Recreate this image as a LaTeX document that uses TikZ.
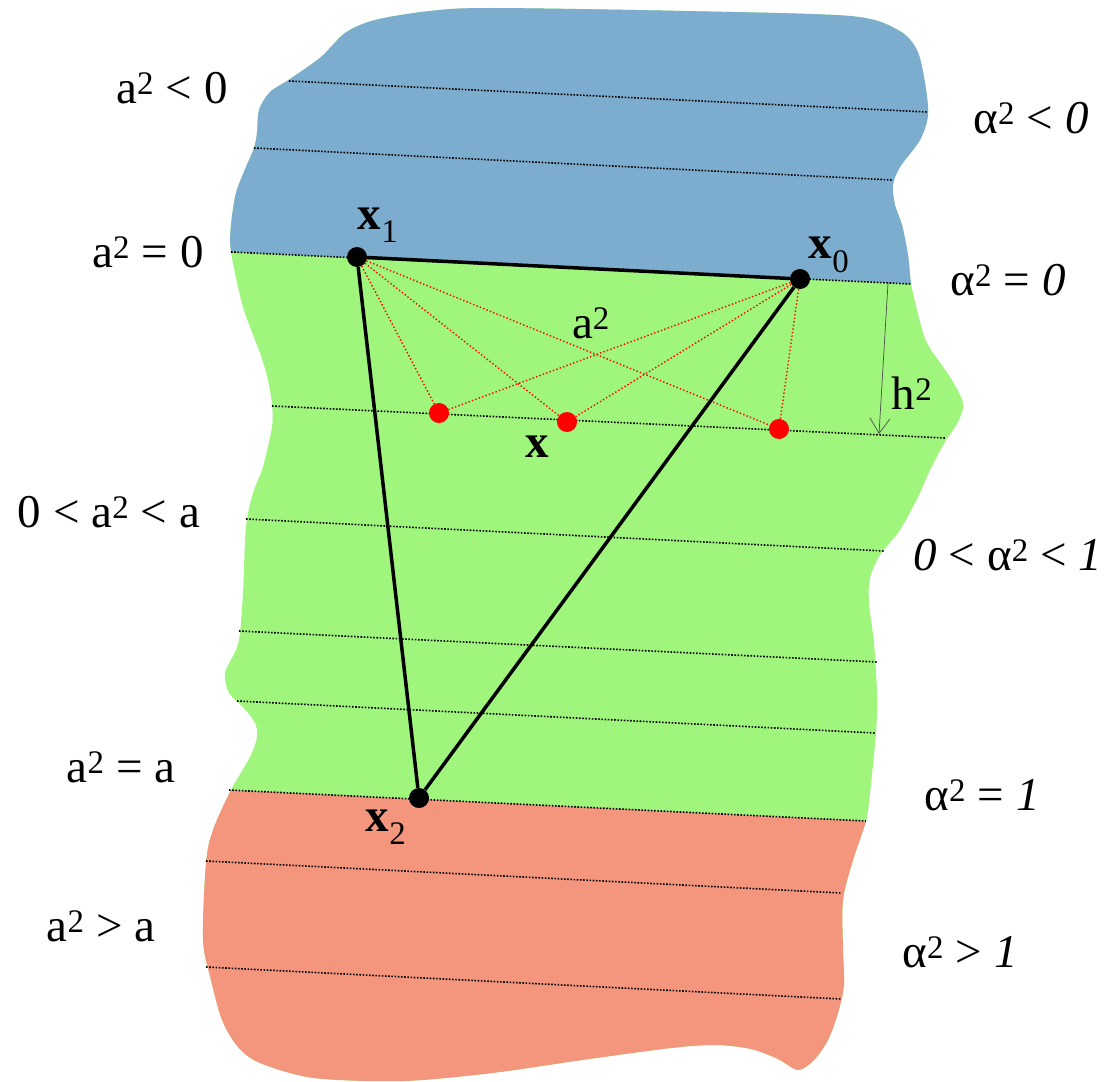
\documentclass[tikz,border=0pt]{standalone}
\usepackage{fontspec}
\setmainfont{Liberation Serif}
\usetikzlibrary{arrows.meta, calc}
\definecolor{regblue}{HTML}{7DADCE}
\definecolor{reggreen}{HTML}{A0F57D}
\definecolor{regred}{HTML}{F4967E}
\tikzset{
  lbl/.style={font=\fontsize{47}{50}\selectfont, inner sep=0pt},
  vtx/.style={circle, fill=black, minimum size=20pt, inner sep=0pt},
  rdot/.style={circle, fill=red, minimum size=20pt, inner sep=0pt},
  level/.style={dash pattern=on 1.6pt off 1.6pt, line width=1.6pt},
  ray/.style={red, dash pattern=on 1.4pt off 2.2pt, line width=1.4pt},
}

\begin{document}
\begin{tikzpicture}[x=1pt, y=-1pt]
    \useasboundingbox (0,0) rectangle (1113,1081);

    % Regions
    \begin{scope}
        \clip plot[smooth cycle, tension=0.5] coordinates {
            (290,79) (321,57) (345,33) (375,20) (430,11) (491,8) (685,11)
            (850,16) (898,30) (917,50) (925,83) (928,115) (920,140) (900,167)
            (893,185) (895,205) (902,225) (908,255) (911,283) (917,310)
            (927,343) (950,377) (963,403) (958,422) (945,442) (930,470)
            (918,497) (900,530) (880,555) (870,578) (869,603) (874,643)
            (877,693) (876,733) (870,793) (866,821) (853,860) (843,900)
            (843,950) (844,985) (838,1013) (828,1040) (814,1060) (798,1070)
            (778,1059) (751,1049) (716,1045) (671,1048) (582,1060) (492,1073)
            (403,1081) (314,1078) (260,1063) (238,1047) (222,1020) (211,980)
            (203,940) (206,863) (213,830) (231,790) (250,757) (257,737)
            (255,723) (243,707) (229,693) (225,673) (236,650) (240,633)
            (243,593) (246,527) (253,493) (263,467) (272,427) (272,405)
            (268,380) (260,353) (243,307) (231,252) (231,225) (236,193)
            (246,167) (254,148) (257,133) (259,110) (270,92)
        };
        \fill[reggreen] (0,0) rectangle (1113,1081);
        \fill[regblue] (0,0) -- (1113,0) -- (1113,293.5) -- (0,241.1) -- cycle;
        \fill[regred] (0,778.9) -- (1113,833.0) -- (1113,1081) -- (0,1081) -- cycle;
    \end{scope}

    % Level lines
    \foreach \xa/\ya/\xb/\yb in {289/81/927/112, 254/148/892/180, 231/252/911/284,
        272/406/945/438, 246/519/884/551, 239/631/877/662, 237/701/875/733,
        229/790/866/821, 206/861/841/893, 206/967/841/999}
        \draw[level] (\xa,\ya) -- (\xb,\yb);

    % Points
    \node[vtx] (X1) at (357,257) {};
    \node[vtx] (X0) at (800,279) {};
    \node[vtx] (X2) at (419,798) {};
    \node[rdot] (P1) at (439,413) {};
    \node[rdot] (P2) at (567,422) {};
    \node[rdot] (P3) at (779,429) {};

    \foreach \p in {P1,P2,P3} {
        \draw[ray] (X1) -- (\p);
        \draw[ray] (X0) -- (\p);
    }

    % Triangle
    \draw[line width=3.5pt] (X1) -- (X0) -- (X2) -- (X1);

    % Height arrow
    \coordinate (H0) at (888,283);
    \coordinate (H1) at (879,434);
    \draw[gray!60!black, line width=0.7pt, -{Straight Barb[length=15pt, width=20pt]}] (H0) -- (H1);

    % Labels
    \node[lbl] (L1) at (172,88) {a\textsuperscript{2} < 0};
    \node[lbl] (L2) at (148,252) {a\textsuperscript{2} = 0};
    \node[lbl] (L3) at (109,512) {0 < a\textsuperscript{2} < a};
    \node[lbl] (L4) at (121,767) {a\textsuperscript{2} = a};
    \node[lbl] (L5) at (101,926) {a\textsuperscript{2} > a};
    \node[lbl] (R1) at (1031,118) {α\textsuperscript{2} < \textit{0}};
    \node[lbl] (R2) at (1008,280) {α\textsuperscript{2} = \textit{0}};
    \node[lbl] (R3) at (1008,555) {\textit{0} < α\textsuperscript{2} < \textit{1}};
    \node[lbl] (R4) at (982,795) {α\textsuperscript{2} = \textit{1}};
    \node[lbl] (R5) at (960,952) {α\textsuperscript{2} > \textit{1}};
    \node[lbl] (T1) at (378,225) {\textbf{x}\textsubscript{1}};
    \node[lbl] (T0) at (829,255) {\textbf{x}\textsubscript{0}};
    \node[lbl] (T2) at (386,827) {\textbf{x}\textsubscript{2}};
    \node[lbl] (TA) at (591,323) {a\textsuperscript{2}};
    \node[lbl] (TX) at (537,447) {\textbf{x}};
    \node[lbl] (TH) at (912,393) {h\textsuperscript{2}};
\end{tikzpicture}
\end{document}
